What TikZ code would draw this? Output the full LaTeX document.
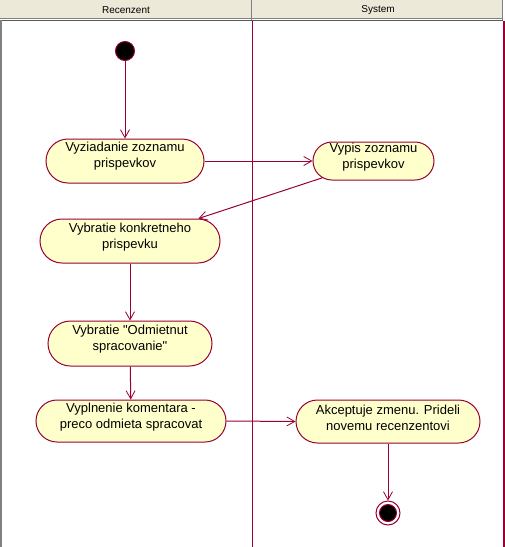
\documentclass[tikz,border=0pt]{standalone}
\usepackage{fontspec}
\setmainfont{Liberation Sans}
\usetikzlibrary{shapes.misc,arrows.meta}
\newcommand\straightquote{\XeTeXglyph\XeTeXcharglyph"22\relax}
\definecolor{uml}{RGB}{153,0,51}
\definecolor{actfill}{RGB}{255,255,204}
\definecolor{hdr}{RGB}{236,233,216}
\definecolor{hdrline}{RGB}{128,128,128}
\begin{document}
\begin{tikzpicture}[x=1pt,y=-1pt,
  act/.style={rounded rectangle,draw=uml,fill=actfill,line width=1pt,inner sep=0pt},
  acttext/.style={font=\fontsize{13}{16}\selectfont,align=center,inner sep=0pt},
  hdrtext/.style={font=\fontsize{10}{12}\selectfont,inner sep=0pt},
  flow/.style={draw=uml,line width=1pt,-{Straight Barb[length=8pt,width=9pt,line width=0.8pt]}},
  lane/.style={draw=uml,line width=1.2pt}
]
\useasboundingbox (0,0) rectangle (505,547);
% header
\fill[hdr] (0,0) rectangle (503,18);
\draw[hdrline,line width=1pt] (0,18.5) -- (503,18.5);
\draw[hdrline!70!black,line width=1.5pt] (0,20.5) -- (503,20.5);
\draw[hdrline,line width=1.5pt] (251.5,0) -- (251.5,20);
\draw[hdrline,line width=1.5pt] (502.5,0) -- (502.5,20);
\draw[hdrline,line width=2pt] (1,20) -- (1,547);
\node[hdrtext] (h1) at (126,10) {Recenzent};
\node[hdrtext] (h2) at (378,10) {System};
% lanes
\coordinate (l1t) at (252.5,21);
\coordinate (l1b) at (252.5,547);
\coordinate (l2t) at (504,21);
\coordinate (l2b) at (504,547);
\draw[lane] (l1t) -- (l1b);
\draw[lane] (l2t) -- (l2b);
% start
\node[circle,draw=uml,fill=black,line width=1pt,minimum size=19pt,inner sep=0pt] (start) at (125,51) {};
% activities
\node[act,minimum width=158pt,minimum height=44pt] (n1) at (125,161) {};
\node[acttext] (t1) at (125,156.5) {Vyziadanie zoznamu\\prispevkov};
\node[act,minimum width=121pt,minimum height=38pt] (n2) at (373.5,161) {};
\node[acttext] (t2) at (373.5,157.5) {Vypis zoznamu\\prispevkov};
\node[act,minimum width=180pt,minimum height=44pt] (n3) at (130,241) {};
\node[acttext] (t3) at (130,237) {Vybratie konkretneho\\prispevku};
\node[act,minimum width=164pt,minimum height=45pt] (n4) at (130,343.5) {};
\node[acttext] (t4) at (130,339.5) {Vybratie \straightquote Odmietnut\\spracovanie\straightquote};
\node[act,minimum width=190pt,minimum height=42pt] (n5) at (131,421) {};
\node[acttext] (t5) at (131,417.5) {Vyplnenie komentara -\\preco odmieta spracovat};
\node[act,minimum width=184pt,minimum height=43pt] (n6) at (388,421.5) {};
\node[acttext] (t6) at (388,417.5) {Akceptuje zmenu. Prideli\\novemu recenzentovi};
% end
\node[circle,draw=uml,fill=white,line width=1pt,minimum size=24pt,inner sep=0pt] (end) at (388,513) {};
\node[circle,draw=uml,fill=black,line width=1pt,minimum size=17pt,inner sep=0pt] (endin) at (388,513) {};
% flows
\draw[flow] (start) -- (n1);
\draw[flow] (n1.east) -- (n2.west);
\draw[flow] (n2) -- (n3);
\draw[flow] (n3.south -| start) ++(5,0) -- (n4.north);
\draw[flow] (n4) -- (n5);
\draw[flow] (n5.east) -- (n6.west);
\draw[flow] (n6) -- (end);
\end{tikzpicture}
\end{document}
